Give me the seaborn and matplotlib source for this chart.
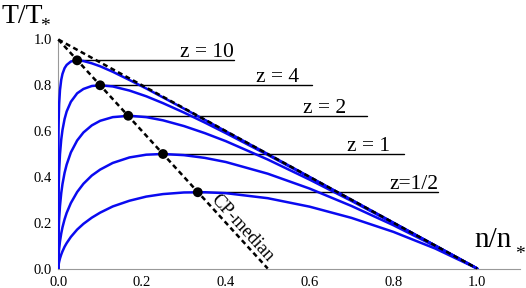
import matplotlib
matplotlib.use("Agg")

import numpy as np
import pandas as pd
import matplotlib.pyplot as plt
from matplotlib.ticker import MultipleLocator
import seaborn as sns

# --- Curve data (n/n*, T/T*) ---
n_vals = [0, 1e-5, 1e-4, 5e-4, 0.001, 0.002, 0.004, 0.007, 0.01, 0.015, 0.02, 0.03,
          0.045, 0.06, 0.08, 0.1, 0.13, 0.17, 0.21, 0.25, 0.3, 0.35, 0.4, 0.5, 0.6,
          0.7, 0.8, 0.9, 1.0]
t_z10 = [0.000, 0.296, 0.454, 0.591, 0.654, 0.718, 0.779, 0.824, 0.850, 0.875, 0.889, 0.904,
         0.909, 0.906, 0.896, 0.883, 0.859, 0.823, 0.786, 0.747, 0.698, 0.649, 0.599, 0.500,
         0.400, 0.300, 0.200, 0.100, 0.000]
t_z4 = [0.000, 0.100, 0.193, 0.299, 0.357, 0.424, 0.499, 0.563, 0.605, 0.653, 0.686, 0.728,
        0.765, 0.784, 0.797, 0.800, 0.795, 0.777, 0.752, 0.722, 0.681, 0.637, 0.591, 0.496,
        0.398, 0.299, 0.200, 0.100, 0.000]
t_z2 = [0.000, 0.030, 0.072, 0.130, 0.168, 0.215, 0.273, 0.329, 0.369, 0.418, 0.454, 0.507,
        0.559, 0.594, 0.625, 0.645, 0.661, 0.667, 0.661, 0.647, 0.622, 0.591, 0.556, 0.476,
        0.388, 0.295, 0.198, 0.100, 0.000]
t_z1 = [0.000, 0.006, 0.020, 0.044, 0.061, 0.085, 0.118, 0.153, 0.180, 0.215, 0.243, 0.286,
        0.334, 0.370, 0.406, 0.432, 0.461, 0.485, 0.497, 0.500, 0.495, 0.483, 0.465, 0.414,
        0.349, 0.273, 0.189, 0.097, 0.000]
t_z05 = [0.000, 0.001, 0.005, 0.013, 0.019, 0.029, 0.044, 0.061, 0.075, 0.095, 0.111, 0.138,
         0.170, 0.195, 0.222, 0.244, 0.271, 0.296, 0.314, 0.325, 0.332, 0.333, 0.329, 0.307,
         0.270, 0.221, 0.160, 0.087, 0.000]

z_labels = ["z = 10", "z = 4", "z = 2", "z = 1", "z=1/2"]
curves = [t_z10, t_z4, t_z2, t_z1, t_z05]

# maxima (they sit on the CP-median)
peak_n = [0.045, 0.1, 0.167, 0.25, 0.333]
peak_t = [0.909, 0.8, 0.667, 0.5, 0.333]
line_end_n = [0.42, 0.605, 0.737, 0.826, 0.907]
label_end_n = [0.42, 0.575, 0.687, 0.792, 0.907]

# dashed guides: limit line and CP-median
limit_n = [0, 1]
limit_t = [1, 0]
median_n = [0, 0.5]
median_t = [1, 0]

tick_vals = [0, 0.2, 0.4, 0.6, 0.8, 1.0]
tick_labels = ["0.0", "0.2", "0.4", "0.6", "0.8", "1.0"]

df = pd.DataFrame({
    "z": np.repeat(z_labels, len(n_vals)),
    "n": np.tile(n_vals, len(z_labels)),
    "T": np.concatenate(curves),
})
df_peaks = pd.DataFrame({"n": peak_n, "T": peak_t})

sns.set_theme(style="white")
plt.rcParams["font.family"] = ["Liberation Serif", "DejaVu Serif"]
plt.rcParams["text.color"] = "black"

fig = plt.figure(figsize=(5.26, 2.88), dpi=100)
ax = fig.add_axes([58.3 / 526, 19.5 / 288, 462 / 526, 229 / 288])

sns.lineplot(data=df, x="n", y="T", hue="z", palette=["#0a0af0"] * 5, sort=False,
             estimator=None, legend=False, ax=ax, lw=1.8, zorder=3)

dash = (0, (2.0, 1.4))
ax.plot(limit_n, limit_t, color="black", lw=1.8, ls=dash, zorder=4, clip_on=False)
ax.plot(median_n, median_t, color="black", lw=1.8, ls=dash, zorder=4, clip_on=False)

for pn, pt, ln, lab_n, lab in zip(peak_n, peak_t, line_end_n, label_end_n, z_labels):
    ax.plot([pn, ln], [pt, pt], color="black", lw=1.0, zorder=2)
    ax.annotate(lab, (lab_n, pt), xytext=(0, 2.2), textcoords="offset points",
                ha="right", va="baseline", fontsize=15.5, color="black")

sns.scatterplot(data=df_peaks, x="n", y="T", color="black", s=50, edgecolor="none",
                ax=ax, zorder=5)

ax.set_xlim(0, 1.103)
ax.set_ylim(0, 1.0)
ax.xaxis.set_minor_locator(MultipleLocator(0.05))
ax.yaxis.set_minor_locator(MultipleLocator(0.05))
ax.set_xticks(tick_vals)
ax.set_xticklabels(tick_labels)
ax.set_yticks(tick_vals)
ax.set_yticklabels(tick_labels)
ax.tick_params(which="both", direction="in", color="#999999", width=0.8,
               labelsize=10.5, labelcolor="black")
ax.tick_params(axis="x", which="major", length=4.5, pad=5.5)
ax.tick_params(axis="y", which="major", length=4.5, pad=4.5)
ax.tick_params(which="minor", length=2.5)
ax.set_xlabel("")
ax.set_ylabel("")
for side in ["top", "right"]:
    ax.spines[side].set_visible(False)
for side in ["left", "bottom"]:
    ax.spines[side].set_color("#999999")
    ax.spines[side].set_linewidth(0.8)

# CP-median label along the dashed line
fig.canvas.draw()
p0 = ax.transData.transform((0, 1))
p1 = ax.transData.transform((0.5, 0))
angle = np.degrees(np.arctan2(p1[1] - p0[1], p1[0] - p0[0]))
ax.text(0.44, 0.178, "CP-median", rotation=angle, rotation_mode="anchor",
        ha="center", va="center", fontsize=13.5, color="black")

# axis titles with a lowered asterisk
fig.text(1 / 526, 1 - 23 / 288, "T/T", fontsize=20, va="baseline", color="black")
fig.text(45 / 526, 1 - 31 / 288, "*", fontsize=14, ha="center", va="baseline",
         color="black")
fig.text(493 / 526, 1 - 247 / 288, "n/n", fontsize=21, ha="center", va="baseline",
         color="black")
fig.text(520 / 526, 1 - 259 / 288, "*", fontsize=14, ha="center", va="baseline",
         color="black")

fig.savefig("out.png", dpi=100)
